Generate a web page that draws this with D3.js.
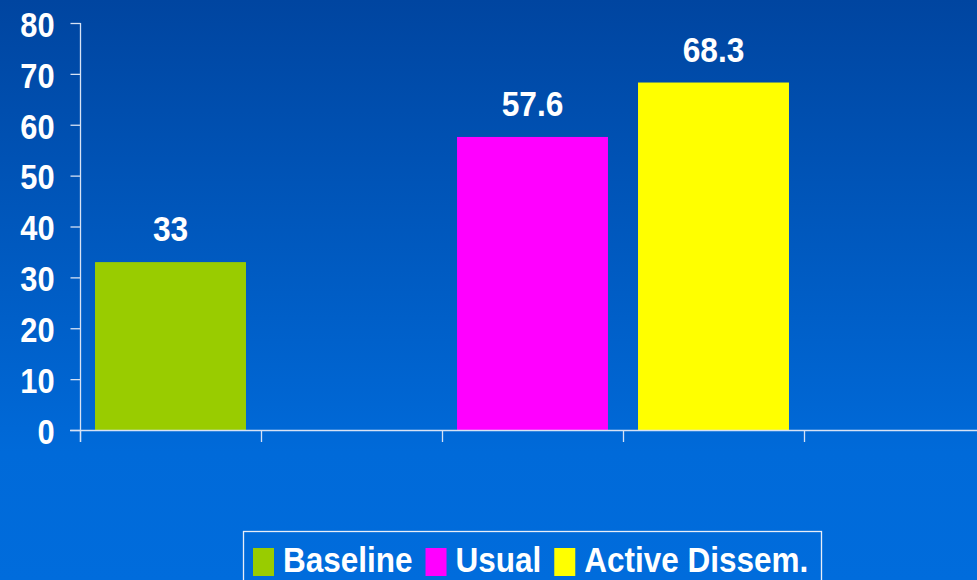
<!DOCTYPE html>
<html>
<head>
<meta charset="utf-8">
<script src="https://cdn.jsdelivr.net/npm/d3@7"></script>
<style>
  html, body { margin: 0; padding: 0; background: #0068d8; }
  svg { display: block; }
  text { font-family: "Liberation Sans", Arial, sans-serif; font-weight: bold; fill: #ffffff; }
</style>
</head>
<body>
<div id="chart"></div>
<script>
// Data
const series = ["Baseline", "Usual", "Active Dissem."];
const values = [33, 57.6, 68.3];
const barColors = ["#99cc00", "#ff00ff", "#ffff00"];
// x axis slots (the chart has empty slots between / after the bars)
const slots = ["s1", "s2", "s3", "s4", "s5"];
const barSlots = ["s1", "s3", "s4"];
const yTicks = [0, 10, 20, 30, 40, 50, 60, 70, 80];

const W = 977, H = 580;
const squeeze = 0.88;   // text in the picture is a little condensed
const axisColor = "#d6e2f5";

const svg = d3.select("#chart")
              .append("svg")
                .attr("width", W)
                .attr("height", H);

// background gradient
const grad = svg.append("defs")
                .append("linearGradient")
                  .attr("id", "bg")
                  .attr("x1", 0).attr("y1", 0)
                  .attr("x2", 0).attr("y2", 1);
grad.append("stop").attr("offset", "0%").attr("stop-color", "#0045a0");
grad.append("stop").attr("offset", "78%").attr("stop-color", "#006ad9");
grad.append("stop").attr("offset", "100%").attr("stop-color", "#006cdc");

svg.append("rect")
   .attr("width", W)
   .attr("height", H)
   .attr("fill", "url(#bg)");

// Scales
const yScale = d3.scaleLinear()
                 .domain([0, 80])
                 .range([430, 23]);
const xScale = d3.scaleBand()
                 .domain(slots)
                 .range([80, 985])
                 .paddingInner(0.166)
                 .paddingOuter(0.083);
const step = xScale.step();
const slotEdge = s => xScale(s) - step * xScale.paddingInner() / 2;

// Bars
svg.selectAll(".bar")
   .data(values)
   .join("rect")
     .attr("class", "bar")
     .attr("x", (d, i) => xScale(barSlots[i]))
     .attr("width", xScale.bandwidth())
     .attr("y", d => yScale(d))
     .attr("height", d => yScale(0) - yScale(d))
     .attr("fill", (d, i) => barColors[i]);

// Value labels
svg.selectAll(".val")
   .data(values)
   .join("text")
     .attr("class", "val")
     .attr("transform", (d, i) =>
       `translate(${xScale(barSlots[i]) + xScale.bandwidth() / 2},${yScale(d) - 21}) scale(${squeeze},1)`)
     .attr("text-anchor", "middle")
     .style("font-size", "36px")
     .text(d => d);

// Y axis
const yAxis = d3.axisLeft(yScale)
                .tickValues(yTicks)
                .tickSize(10)
                .tickSizeOuter(0);
const yG = svg.append("g")
              .attr("transform", "translate(80.5,0)")
              .call(yAxis);
yG.select(".domain").remove();
yG.selectAll(".tick line")
  .attr("stroke", axisColor)
  .attr("stroke-width", 1.3);
yG.selectAll(".tick text")
  .attr("x", -26 / squeeze)
  .attr("dy", "0.38em")
  .attr("transform", `scale(${squeeze},1)`)
  .attr("fill", "#ffffff")
  .style("font-size", "35px");
yG.attr("font-family", null).attr("font-size", null);

svg.append("line")
   .attr("x1", 80.5).attr("x2", 80.5)
   .attr("y1", yScale(80)).attr("y2", yScale(0) + 12)
   .attr("stroke", axisColor)
   .attr("stroke-width", 1.3);

// X axis (ticks on the slot boundaries)
svg.append("line")
   .attr("x1", 70).attr("x2", W)
   .attr("y1", yScale(0) + 0.5).attr("y2", yScale(0) + 0.5)
   .attr("stroke", axisColor)
   .attr("stroke-width", 1.3);
svg.selectAll(".xtick")
   .data(slots)
   .join("line")
     .attr("class", "xtick")
     .attr("x1", d => Math.round(slotEdge(d)) + 0.5)
     .attr("x2", d => Math.round(slotEdge(d)) + 0.5)
     .attr("y1", yScale(0))
     .attr("y2", yScale(0) + 12)
     .attr("stroke", axisColor)
     .attr("stroke-width", 1.3);

// Legend
const legend = svg.append("g");
legend.append("rect")
      .attr("x", 243.5).attr("y", 531.5)
      .attr("width", 578).attr("height", 60)
      .attr("fill", "none")
      .attr("stroke", "#e8eef8")
      .attr("stroke-width", 1.3);

let lx = 253;
series.forEach(function(name, i) {
  legend.append("rect")
        .attr("x", lx).attr("y", 548)
        .attr("width", 21).attr("height", 28)
        .attr("fill", barColors[i]);
  const t = legend.append("text")
                  .attr("transform", `translate(${lx + 30},572) scale(${squeeze + 0.02},1)`)
                  .style("font-size", "35px")
                  .text(name);
  lx += 30 + t.node().getComputedTextLength() * (squeeze + 0.02) + 13;
});
</script>
</body>
</html>
